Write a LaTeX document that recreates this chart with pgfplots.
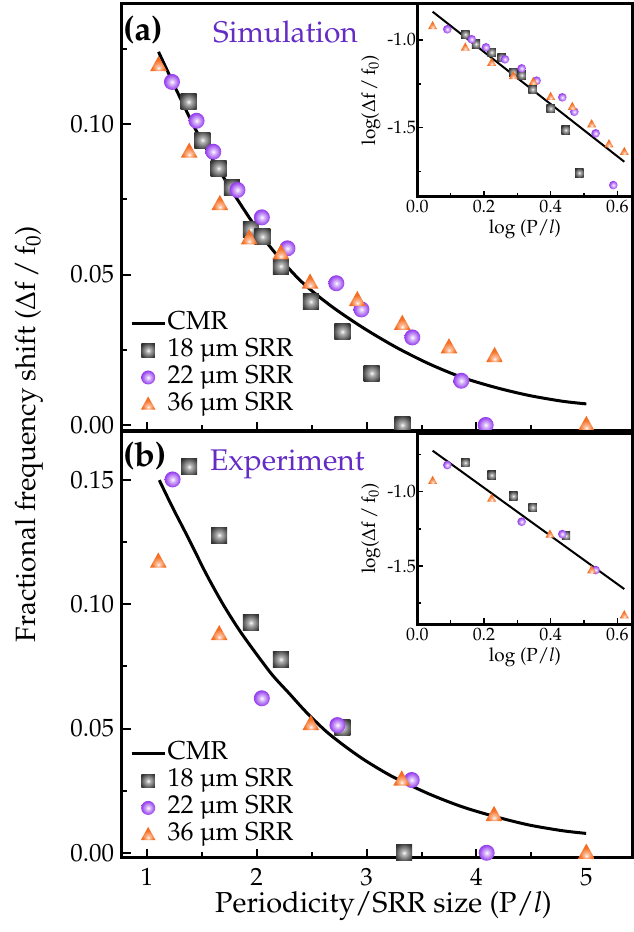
\documentclass[border=0pt]{standalone}
\usepackage[T1]{fontenc}
\usepackage{mathpazo}
\usepackage{pgfplots}
\pgfplotsset{compat=1.18}

\definecolor{titlepurple}{RGB}{100,44,196}
\definecolor{ballpurple}{RGB}{150,62,238}
\definecolor{balledge}{RGB}{118,40,205}
\definecolor{triorange}{RGB}{246,112,36}

% radial shadings used inside the plot marks
\pgfdeclareradialshading{sqshade}{\pgfpoint{0bp}{0bp}}{color(0bp)=(white); color(7bp)=(black!28); color(30bp)=(black!78); color(50bp)=(black!90)}
\pgfdeclareradialshading{ballshade}{\pgfpoint{0bp}{0bp}}{color(0bp)=(white); color(7bp)=(ballpurple!35); color(24bp)=(ballpurple); color(50bp)=(balledge)}
\pgfdeclareradialshading{trishade}{\pgfpoint{0bp}{-16bp}}{color(0bp)=(white); color(6bp)=(triorange!45); color(20bp)=(triorange); color(50bp)=(triorange!92!black)}

\pgfdeclareplotmark{shsquare}{%
  \pgfpathrectangle{\pgfpoint{-\pgfplotmarksize}{-\pgfplotmarksize}}{\pgfpoint{2\pgfplotmarksize}{2\pgfplotmarksize}}%
  \pgfshadepath{sqshade}{0}\pgfusepath{discard}}
\pgfdeclareplotmark{shball}{%
  \pgfpathcircle{\pgfpointorigin}{\pgfplotmarksize}%
  \pgfshadepath{ballshade}{0}\pgfusepath{discard}}
\pgfdeclareplotmark{shtri}{%
  \pgfpathmoveto{\pgfpoint{0pt}{1.15\pgfplotmarksize}}%
  \pgfpathlineto{\pgfpoint{-1.05\pgfplotmarksize}{-0.75\pgfplotmarksize}}%
  \pgfpathlineto{\pgfpoint{1.05\pgfplotmarksize}{-0.75\pgfplotmarksize}}%
  \pgfpathclose
  \pgfshadepath{trishade}{0}\pgfusepath{discard}}

\pgfplotsset{
  mainax/.style={
    scale only axis, width=511bp, anchor=south west,
    xmin=0.77, xmax=5.42,
    axis line style={line width=3bp},
    tick style={line width=2bp, black},
    tick align=inside, major tick length=9bp, minor tick length=5.5bp,
    xtick={1,2,3,4,5}, minor xtick={1.5,2.5,3.5,4.5},
    xtick pos=left, ytick pos=left,
    tick label style={font=\fontsize{25}{27}\selectfont},
    yticklabel style={xshift=-4bp},
    xticklabel style={yshift=-7bp},
    axis on top,
    legend cell align=left,
    legend style={draw=none, fill=none, anchor=south west,
      font=\fontsize{26}{28}\selectfont, row sep=0bp, inner sep=0pt,
      nodes={inner sep=1.5bp, text height=18bp, text depth=6bp}},
  },
  insax/.style={
    scale only axis, width=215.2bp, anchor=south west,
    xmin=0, xmax=0.6456,
    axis background/.style={fill=white},
    axis line style={line width=2.5bp},
    tick style={line width=1.5bp, black},
    tick align=inside, major tick length=6bp, minor tick length=4bp,
    xtick={0,0.2,0.4,0.6}, xticklabels={0.0,0.2,0.4,0.6}, minor xtick={0.1,0.3,0.5},
    ytick={-1.5,-1.0}, yticklabels={-1.5,-1.0}, minor ytick={-1.75,-1.25,-0.75},
    xtick pos=left, ytick pos=left,
    tick label style={font=\fontsize{18}{20}\selectfont},
    yticklabel style={xshift=2bp},
    label style={font=\fontsize{19}{21}\selectfont},
    xlabel={log (P/\textit{l})},
    ylabel={log(\(\Delta\)f\,/\,f\textsubscript{0})},
    axis on top,
  },
  cmr/.style={black, line width=3bp, smooth, tension=0.5,
    legend image code/.code={\draw[#1] (0bp,0bp) -- (33bp,0bp);}},
  sq/.style={only marks, mark=shsquare, mark size=8bp,
    legend image code/.code={\draw[#1, mark size=6.7bp] plot coordinates {(16.5bp,0bp)};}},
  ci/.style={only marks, mark=shball, mark size=8bp,
    legend image code/.code={\draw[#1, mark size=7bp] plot coordinates {(16.5bp,0bp)};}},
  tr/.style={only marks, mark=shtri, mark size=8bp,
    legend image code/.code={\draw[#1, mark size=7bp] plot coordinates {(16.5bp,0bp)};}},
  isq/.style={only marks, mark=shsquare, mark size=4.2bp},
  ici/.style={only marks, mark=shball, mark size=4.3bp},
  itr/.style={only marks, mark=shtri, mark size=4.3bp},
}

\begin{document}
\begin{tikzpicture}
\path[use as bounding box] (0bp,0bp) rectangle (634bp,932bp);

% ---------------- (a) simulation ----------------
\begin{axis}[mainax, at={(121.5bp,501bp)}, height=427bp,
  ymin=-0.002, ymax=0.1399,
  ytick={0,0.05,0.10}, yticklabels={0.00,0.05,0.10},
  minor ytick={0.025,0.075,0.125}, xticklabels={},
  legend style={at={(0.0166,0.03)}}]
\addplot[cmr] coordinates {
  (1.107,0.1240) (1.30,0.1090) (1.477,0.0960) (1.78,0.0775) (2.084,0.0610)
  (2.386,0.0484) (2.66,0.0400) (2.96,0.0325) (3.27,0.0258) (3.57,0.0203)
  (3.87,0.0158) (4.18,0.0124) (4.48,0.0098) (4.78,0.0079) (5.00,0.0070)};
\addlegendentry{CMR}
\addplot[sq] coordinates {
  (1.380,0.1074) (1.507,0.0947) (1.653,0.0853) (1.775,0.0788) (1.947,0.0650)
  (2.053,0.0626) (2.220,0.0528) (2.493,0.0410) (2.780,0.0310) (3.047,0.0172)
  (3.325,0.0000)};
\addlegendentry{18 \textmu m SRR}
\addplot[ci] coordinates {
  (1.229,0.1140) (1.453,0.1011) (1.605,0.0908) (1.825,0.0781) (2.047,0.0690)
  (2.280,0.0587) (2.725,0.0471) (2.953,0.0384) (3.416,0.0291) (3.862,0.0147)
  (4.084,0.0000)};
\addlegendentry{22 \textmu m SRR}
\addplot[tr] coordinates {
  (1.107,0.1196) (1.386,0.0908) (1.665,0.0734) (1.932,0.0620) (2.220,0.0570)
  (2.486,0.0473) (2.916,0.0415) (3.325,0.0336) (3.750,0.0258) (4.165,0.0229)
  (5.000,0.0000)};
\addlegendentry{36 \textmu m SRR}
\end{axis}

\begin{axis}[insax, at={(417.3bp,735.3bp)}, height=192.7bp,
  ymin=-1.893, ymax=-0.795]
\addplot[black, line width=2bp] coordinates {(0.046,-0.839) (0.621,-1.694)};
\addplot[isq] coordinates {
  (0.144,-0.968) (0.176,-1.023) (0.223,-1.070) (0.253,-1.101) (0.288,-1.184)
  (0.313,-1.200) (0.346,-1.281) (0.400,-1.390) (0.445,-1.513) (0.486,-1.757)};
\addplot[ici] coordinates {
  (0.090,-0.939) (0.163,-0.996) (0.206,-1.042) (0.263,-1.110) (0.313,-1.162)
  (0.358,-1.232) (0.435,-1.327) (0.471,-1.409) (0.535,-1.532) (0.588,-1.827)};
\addplot[itr] coordinates {
  (0.046,-0.920) (0.144,-1.042) (0.223,-1.129) (0.288,-1.205) (0.348,-1.238)
  (0.400,-1.323) (0.465,-1.380) (0.523,-1.479) (0.575,-1.593) (0.621,-1.637)};
\end{axis}

% ---------------- (b) experiment ----------------
\begin{axis}[mainax, at={(121.5bp,74bp)}, height=426bp,
  ymin=-0.0021, ymax=0.1694,
  ytick={0,0.05,0.10,0.15}, yticklabels={0.00,0.05,0.10,0.15},
  minor ytick={0.025,0.075,0.125},
  xticklabels={1,2,3,4,5},
  legend style={at={(0.0166,0.022)}}]
\addplot[cmr] coordinates {
  (1.114,0.1500) (1.235,0.1390) (1.386,0.1260) (1.538,0.1125) (1.689,0.1004)
  (1.841,0.0897) (1.993,0.0803) (2.144,0.0715) (2.295,0.0642) (2.447,0.0568)
  (2.629,0.0490) (2.800,0.0430) (2.962,0.0379) (3.115,0.0337) (3.265,0.0300)
  (3.568,0.0237) (3.871,0.0185) (4.175,0.0145) (4.477,0.0112) (4.780,0.0089)
  (4.998,0.0078)};
\addlegendentry{CMR}
\addplot[sq] coordinates {
  (1.386,0.1554) (1.659,0.1279) (1.947,0.0926) (2.220,0.0779) (2.780,0.0503)
  (3.341,0.0000)};
\addlegendentry{18 \textmu m SRR}
\addplot[ci] coordinates {
  (1.235,0.1503) (2.047,0.0622) (2.735,0.0514) (3.411,0.0293) (4.093,0.0000)};
\addlegendentry{22 \textmu m SRR}
\addplot[tr] coordinates {
  (1.105,0.1172) (1.659,0.0880) (2.493,0.0518) (3.320,0.0295) (4.160,0.0152)
  (5.000,0.0000)};
\addlegendentry{36 \textmu m SRR}
\end{axis}

\begin{axis}[insax, at={(417.3bp,307.7bp)}, height=191bp,
  ymin=-1.892, ymax=-0.607]
\addplot[black, line width=2bp] coordinates {(0.046,-0.724) (0.621,-1.655)};
\addplot[isq] coordinates {
  (0.144,-0.805) (0.223,-0.888) (0.288,-1.029) (0.346,-1.105) (0.446,-1.296)};
\addplot[ici] coordinates {
  (0.090,-0.821) (0.313,-1.202) (0.435,-1.285) (0.535,-1.527)};
\addplot[itr] coordinates {
  (0.046,-0.926) (0.223,-1.045) (0.398,-1.287) (0.523,-1.527) (0.621,-1.830)};
\end{axis}

% panel titles and shared axis labels
\node[anchor=base west, inner sep=0pt, font=\fontsize{34}{36}\selectfont\bfseries] at (123bp,891bp) {(a)};
\node[anchor=base west, inner sep=0pt, text=titlepurple, font=\fontsize{30}{32}\selectfont] at (213bp,889bp) {Simulation};
\node[anchor=base west, inner sep=0pt, font=\fontsize{34}{36}\selectfont\bfseries] at (123bp,465bp) {(b)};
\node[anchor=base west, inner sep=0pt, text=titlepurple, font=\fontsize{30}{32}\selectfont] at (210bp,461bp) {Experiment};
\node[rotate=90, inner sep=0pt, font=\fontsize{28}{30}\selectfont] at (29bp,498bp)
  {Fractional frequency shift (\(\Delta\)f\,/\,f\textsubscript{0})};
\node[anchor=base, inner sep=0pt, font=\fontsize{29}{31}\selectfont] at (383.5bp,20bp)
  {Periodicity/SRR size (P/\textit{l})};
\end{tikzpicture}
\end{document}
